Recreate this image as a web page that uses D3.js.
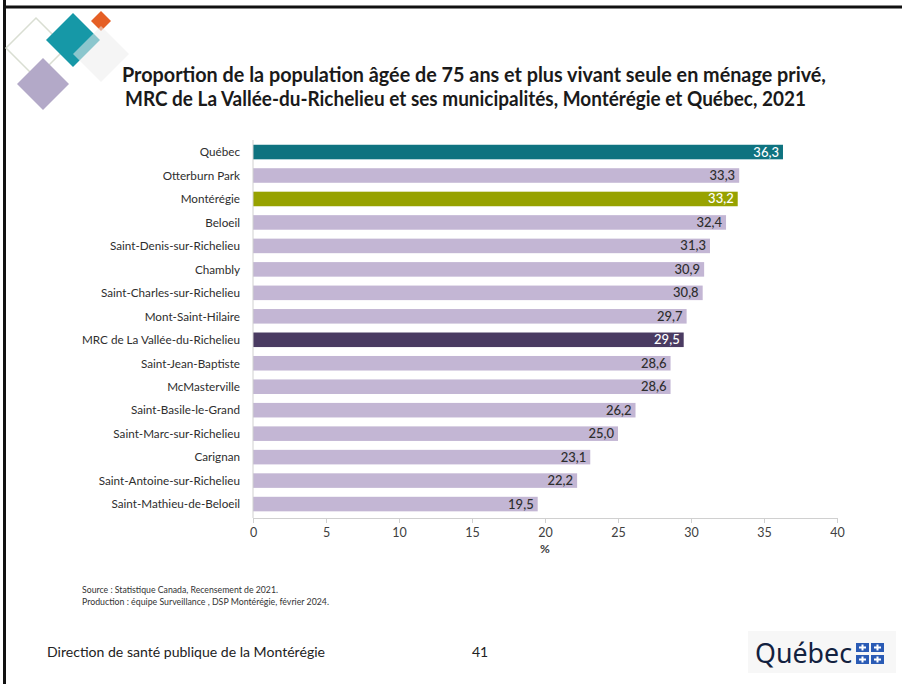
<!DOCTYPE html>
<html><head><meta charset="utf-8">
<script src="https://cdn.jsdelivr.net/npm/d3@7"></script>
<style>html,body{margin:0;padding:0;background:#fff;}svg{display:block;}</style>
</head><body>
<svg id="c" width="902" height="684"></svg>
<script>
const categories = ["Québec","Otterburn Park","Montérégie","Beloeil","Saint-Denis-sur-Richelieu","Chambly","Saint-Charles-sur-Richelieu","Mont-Saint-Hilaire","MRC de La Vallée-du-Richelieu","Saint-Jean-Baptiste","McMasterville","Saint-Basile-le-Grand","Saint-Marc-sur-Richelieu","Carignan","Saint-Antoine-sur-Richelieu","Saint-Mathieu-de-Beloeil"];
const values = [36.3,33.3,33.2,32.4,31.3,30.9,30.8,29.7,29.5,28.6,28.6,26.2,25.0,23.1,22.2,19.5];
const barKinds = ["quebec","muni","monteregie","muni","muni","muni","muni","muni","mrc","muni","muni","muni","muni","muni","muni","muni"];
const xTicks = [0,5,10,15,20,25,30,35,40];
const titleLines = ["Proportion de la population âgée de 75 ans et plus vivant seule en ménage privé,","MRC de La Vallée-du-Richelieu et ses municipalités, Montérégie et Québec, 2021"];
const sourceLines = ["Source : Statistique Canada, Recensement de 2021.","Production : équipe Surveillance , DSP Montérégie, février 2024."];

const kindFill = {quebec:"#0f7380", monteregie:"#97a200", mrc:"#4a3b62", muni:"#c3b6d4"};
const kindText = {quebec:"#ffffff", monteregie:"#ffffff", mrc:"#ffffff", muni:"#2e2e2e"};

const svg = d3.select("#c");
const FONT = "Lato, 'Open Sans', sans-serif";

// slide frame
svg.append("rect").attr("x",3).attr("y",0).attr("width",3).attr("height",684).attr("fill","#111");
svg.append("rect").attr("x",3).attr("y",5.5).attr("width",899).attr("height",3).attr("fill","#111");

// decorative diamonds
function diamond(cx, cy, r) { return `M${cx},${cy-r}L${cx+r},${cy}L${cx},${cy+r}L${cx-r},${cy}Z`; }
const deco = svg.append("g");
deco.append("path").attr("d", diamond(36,48,30)).attr("fill","none").attr("stroke","#d9ded2").attr("stroke-width",1.5);
deco.append("path").attr("d", diamond(43,84,26)).attr("fill","#b3a9c8");
deco.append("path").attr("d", diamond(73,40,27)).attr("fill","#1698a7");
deco.append("path").attr("d", diamond(101,21,10)).attr("fill","#e55f25");
deco.append("path").attr("d", diamond(101,54,28)).attr("fill","#ececec").attr("opacity",0.55);

// title
const titleG = svg.append("g");
const titleX = [122, 125];
const titleWidths = [704, 681];
titleLines.forEach((t,i) => {
  titleG.append("text").attr("x",titleX[i]).attr("y",82 + i*24).attr("text-anchor","start")
    .attr("font-family",FONT).attr("font-weight","bold").attr("font-size",20).attr("fill","#1a1a1a")
    .attr("textLength",titleWidths[i]).attr("lengthAdjust","spacingAndGlyphs").text(t);
});

// chart
const x = d3.scaleLinear().domain([0,40]).range([253,837]);
const y = d3.scaleBand().domain(categories).range([140.3,515.8]).paddingInner(0.38).paddingOuter(0.19);
const axisY = 518;

const bars = svg.append("g");
bars.selectAll("rect").data(categories).join("rect")
  .attr("x", x(0)).attr("y", d => y(d))
  .attr("width", (d,i) => x(values[i]) - x(0)).attr("height", y.bandwidth())
  .attr("fill", (d,i) => kindFill[barKinds[i]]);

bars.selectAll("text.v").data(categories).join("text").attr("class","v")
  .attr("x", (d,i) => x(values[i]) - 4).attr("y", d => y(d) + y.bandwidth()/2 + 4.5)
  .attr("text-anchor","end").attr("font-family",FONT).attr("font-size",13).attr("font-weight",500)
  .attr("fill", (d,i) => kindText[barKinds[i]])
  .text((d,i) => values[i].toFixed(1).replace(".", ","));

// category labels
svg.append("g").selectAll("text").data(categories).join("text")
  .attr("x", 240).attr("y", d => y(d) + y.bandwidth()/2 + 4.3)
  .attr("text-anchor","end").attr("font-family",FONT).attr("font-size",11.7).attr("fill","#2e2e2e")
  .text(d => d);

// y axis line
svg.append("line").attr("x1",x(0)).attr("x2",x(0)).attr("y1",140).attr("y2",axisY).attr("stroke","#d0d0d0");

// x axis
const xAxis = d3.axisBottom(x).tickValues(xTicks).tickSize(5).tickPadding(5).tickFormat(d3.format("d"));
const gx = svg.append("g").attr("transform",`translate(0,${axisY})`).call(xAxis);
gx.select(".domain").attr("stroke","#d0d0d0");
gx.selectAll(".tick line").attr("stroke","#d0d0d0");
gx.selectAll(".tick text").attr("font-family",FONT).attr("font-size",12.5).attr("fill","#404040");
svg.append("text").attr("x",545).attr("y",553).attr("text-anchor","middle")
  .attr("font-family",FONT).attr("font-weight","bold").attr("font-size",12).attr("fill","#404040").text("%");

// source
const srcWidths = [196, 247];
sourceLines.forEach((t,i) => {
  svg.append("text").attr("x",82).attr("y",593 + i*11.5).attr("font-family",FONT).attr("font-size",9)
    .attr("fill","#333").attr("textLength",srcWidths[i]).attr("lengthAdjust","spacingAndGlyphs").text(t);
});

// footer
svg.append("text").attr("x",47).attr("y",657).attr("font-family",FONT).attr("font-size",14).attr("fill","#222")
  .attr("textLength",278).attr("lengthAdjust","spacingAndGlyphs").text("Direction de santé publique de la Montérégie");
svg.append("text").attr("x",472).attr("y",657).attr("font-family",FONT).attr("font-size",14).attr("fill","#222").text("41");

// Québec logo
const logo = svg.append("g");
logo.append("rect").attr("x",748).attr("y",631).attr("width",148).attr("height",42).attr("fill","#f7f7f7");
logo.append("text").attr("x",755).attr("y",663).attr("font-family","'Noto Sans', 'Open Sans', sans-serif").attr("font-size",28)
  .attr("fill","#12213f").attr("textLength",97).attr("lengthAdjust","spacingAndGlyphs").text("Québec");
const flagX = [856, 871], flagY = [643, 655];
flagX.forEach(fx => flagY.forEach(fy => {
  logo.append("rect").attr("x",fx).attr("y",fy).attr("width",13).attr("height",9).attr("fill","#2a5bb5");
  logo.append("rect").attr("x",fx+5.5).attr("y",fy+1.5).attr("width",2).attr("height",6).attr("fill","#fff");
  logo.append("rect").attr("x",fx+3).attr("y",fy+3.5).attr("width",7).attr("height",2).attr("fill","#fff");
}));
</script>
</body></html>
